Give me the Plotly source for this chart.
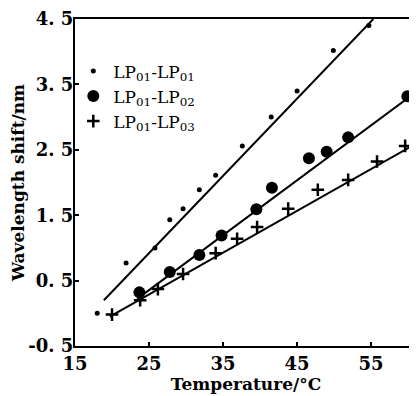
import plotly.graph_objects as go

# LP01-LP01 (small dots)
t1 = [18.0, 21.9, 25.8, 27.8, 29.6, 31.8, 34.0, 37.6, 41.5, 45.0, 49.9, 54.7]
s1 = [0.0, 0.77, 1.0, 1.43, 1.6, 1.89, 2.11, 2.56, 3.0, 3.4, 4.02, 4.4]
# LP01-LP02 (big dots)
t2 = [23.7, 27.8, 31.8, 34.8, 39.5, 41.6, 46.6, 49.0, 51.9, 59.9]
s2 = [0.32, 0.63, 0.89, 1.19, 1.59, 1.92, 2.37, 2.47, 2.69, 3.32]
# LP01-LP03 (plus)
t3 = [20.0, 23.8, 26.2, 29.6, 34.0, 36.9, 39.6, 43.8, 47.8, 51.9, 55.8, 59.6]
s3 = [-0.02, 0.2, 0.37, 0.6, 0.92, 1.14, 1.32, 1.6, 1.89, 2.04, 2.32, 2.56]

# fitted line end points
fit1_t = [18.9, 55.3]
fit1_s = [0.2, 4.5]
fit2_t = [23.4, 61.5]
fit2_s = [0.22, 3.42]
fit3_t = [19.7, 61.5]
fit3_s = [-0.05, 2.62]

names = ["LP<sub>01</sub>-LP<sub>01</sub>", "LP<sub>01</sub>-LP<sub>02</sub>", "LP<sub>01</sub>-LP<sub>03</sub>"]

x_ticks = [15, 25, 35, 45, 55]
y_ticks = [-0.5, 0.5, 1.5, 2.5, 3.5, 4.5]
y_ticktext = ["-0. 5", "0. 5", "1. 5", "2. 5", "3. 5", "4. 5"]

FONT = "DejaVu Serif"

fig = go.Figure()
for ft, fs in [(fit1_t, fit1_s), (fit2_t, fit2_s), (fit3_t, fit3_s)]:
    fig.add_trace(go.Scatter(x=ft, y=fs, mode="lines", line=dict(color="black", width=2),
                             showlegend=False, hoverinfo="skip"))

fig.add_trace(go.Scatter(x=t1, y=s1, mode="markers", name=names[0],
                         marker=dict(symbol="circle", size=5, color="black")))
fig.add_trace(go.Scatter(x=t2, y=s2, mode="markers", name=names[1],
                         marker=dict(symbol="circle", size=12, color="black")))
fig.add_trace(go.Scatter(x=t3, y=s3, mode="markers", name=names[2],
                         marker=dict(symbol="cross-thin", size=9, color="black",
                                     line=dict(color="black", width=2.5))))

fig.update_layout(
    width=409, height=388,
    margin=dict(l=67, r=0, t=6, b=50),
    paper_bgcolor="white", plot_bgcolor="white",
    font=dict(family=FONT, color="black", size=16),
    legend=dict(x=-0.005, y=0.895, xanchor="left", yanchor="top",
                bgcolor="rgba(0,0,0,0)", font=dict(size=17, family=FONT),
                tracegroupgap=0, itemsizing="trace"),
    xaxis=dict(range=[15, 61.2], tickvals=x_ticks, ticks="inside", ticklen=4, tickwidth=2,
               tickcolor="black",
               showline=True, linewidth=2, linecolor="black", mirror=True,
               showgrid=False, zeroline=False,
               tickfont=dict(size=18, family=FONT, weight="bold"),
               title=dict(text="<b>Temperature/°C</b>", font=dict(size=17, family=FONT), standoff=0)),
    yaxis=dict(range=[-0.5, 4.5], tickvals=y_ticks, ticktext=y_ticktext, ticks="inside",
               ticklen=4, tickwidth=2, tickcolor="black",
               showline=True, linewidth=2, linecolor="black",
               showgrid=False, zeroline=False, ticklabelstandoff=-4,
               ticklabeloverflow="allow",
               tickfont=dict(size=18, family=FONT, weight="bold"),
               title=dict(text="<b>Wavelength shift/nm</b>", font=dict(size=17, family=FONT), standoff=4)),
)
fig.write_html("out.html")
